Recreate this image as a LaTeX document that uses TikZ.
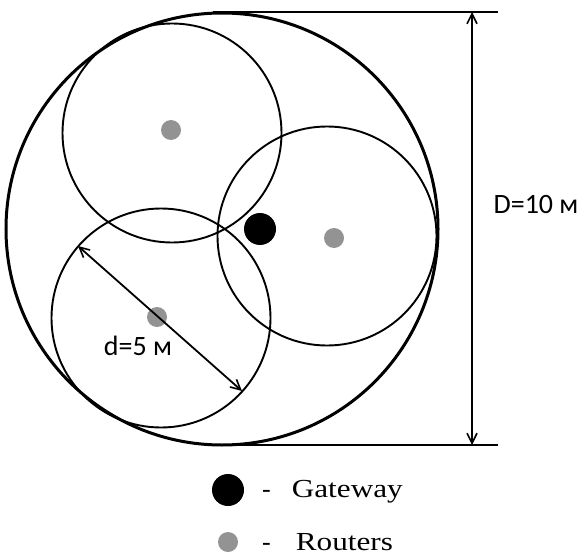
\documentclass[tikz,border=0pt]{standalone}
\usepackage{fontspec}
\setmainfont{Liberation Serif}
\newfontfamily\calib{Carlito}
\usetikzlibrary{arrows.meta}
\begin{document}
\begin{tikzpicture}[x=1pt,y=-1pt,
  bigring/.style={circle,draw,line width=3pt,minimum size=432pt,inner sep=0pt},
  ring/.style={circle,draw,line width=1.9pt,minimum size=219pt,inner sep=0pt},
  gw/.style={circle,fill=black,minimum size=32pt,inner sep=0pt},
  rt/.style={circle,fill=gray!85,minimum size=20pt,inner sep=0pt},
  dimline/.style={line width=1.8pt},
  dimarrow/.style={line width=1.8pt,{Straight Barb[length=10pt,width=10pt,line width=1.6pt]}-{Straight Barb[length=10pt,width=10pt,line width=1.6pt]}},
  lbl/.style={font=\calib\fontsize{28}{30}\selectfont,inner sep=0pt},
  leg/.style={font=\fontsize{26}{28}\selectfont,inner sep=0pt,anchor=base west}
]
\useasboundingbox (0,0) rectangle (580,556);
\node[bigring] (big) at (222,229) {};
\node[ring] (c1) at (172,133) {};
\node[ring] (c2) at (327,236) {};
\node[ring] (c3) at (161,318) {};
\node[gw] (g) at (260,229) {};
\node[rt] (r1) at (171,130) {};
\node[rt] (r2) at (334,238) {};
\node[rt] (r3) at (157,317) {};
% dimension D
\coordinate (t1) at (213,12);
\coordinate (t2) at (498,12);
\coordinate (b1) at (219,445);
\coordinate (b2) at (498,445);
\coordinate (at) at (472,12);
\coordinate (ab) at (472,445);
\draw[dimline] (t1) -- (t2);
\draw[dimline] (b1) -- (b2);
\draw[dimarrow] (at) -- (ab);
\node[lbl] (D) at (536,205) {D=10 м};
% dimension d
\coordinate (d1) at (78,246);
\coordinate (d2) at (242,391);
\draw[dimarrow] (d1) -- (d2);
\node[lbl] (dl) at (138,346) {d=5 м};
% legend
\node[gw] (lg) at (228,490) {};
\node[rt] (lr) at (228,542) {};
\node[leg] (lgt) at (262,497) {-\hspace{21pt}\scalebox{1.2}[1]{Gateway}};
\node[leg] (lrt) at (262,550) {-\hspace{25pt}\scalebox{1.2}[1]{Routers}};
\end{tikzpicture}
\end{document}
